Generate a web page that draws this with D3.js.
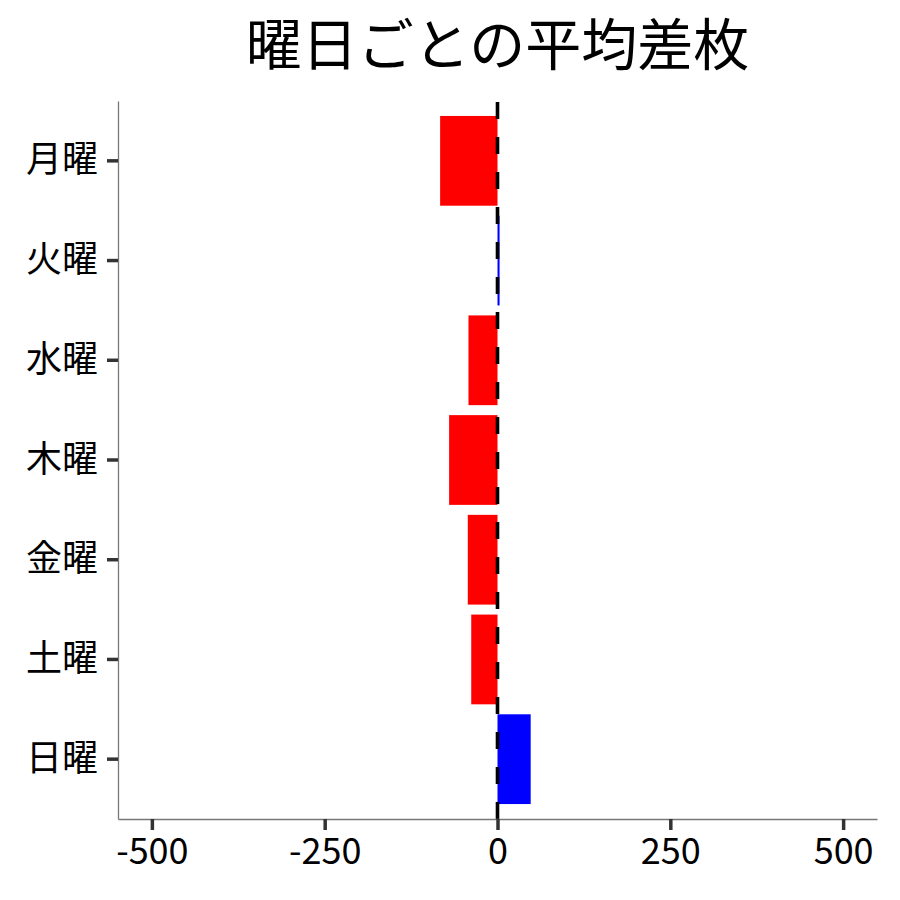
<!DOCTYPE html>
<html>
<head>
<meta charset="utf-8">
<script src="https://cdn.jsdelivr.net/npm/d3@7"></script>
<style>
  body { margin: 0; background: #fff; }
  text { font-family: "Noto Sans CJK JP", "Noto Sans", sans-serif; }
</style>
</head>
<body>
<div id="chart"></div>
<script>
// data
const days = ["月曜", "火曜", "水曜", "木曜", "金曜", "土曜", "日曜"];
const avgDiff = [-83, 3, -42, -70, -43, -38, 48];
const xTicks = [-500, -250, 0, 250, 500];
const titleText = "曜日ごとの平均差枚";

const width = 900, height = 900;
const margin = {top: 101, right: 23, bottom: 81, left: 118};

let svg = d3.select("#chart")
    .append("svg")
    .attr("width", width)
    .attr("height", height);

let x = d3.scaleLinear()
    .domain([-549, 549])
    .range([margin.left, width - margin.right]);

let y = d3.scaleBand()
    .domain(days)
    .range([margin.top, height - margin.bottom])
    .paddingInner(0.1)
    .paddingOuter(0.15);

let data = days.map((d, i) => ({day: d, value: avgDiff[i]}));

// bars
svg.append("g")
    .selectAll("rect")
    .data(data)
    .enter()
    .append("rect")
    .attr("x", d => x(Math.min(0, d.value)))
    .attr("y", d => y(d.day))
    .attr("width", d => Math.abs(x(d.value) - x(0)))
    .attr("height", y.bandwidth())
    .attr("fill", d => d.value < 0 ? "#ff0000" : "#0000ff");

// zero line
svg.append("line")
    .attr("x1", x(0))
    .attr("x2", x(0))
    .attr("y1", height - margin.bottom)
    .attr("y2", margin.top - 2)
    .attr("stroke", "#000")
    .attr("stroke-width", 3.6)
    .attr("stroke-dasharray", "17,18");

// axes (plain hyphen for negatives, like the original)
let xAxis = svg.append("g")
    .attr("transform", `translate(0,${height - margin.bottom})`)
    .call(d3.axisBottom(x).tickValues(xTicks).tickFormat(d => String(d))
        .tickSize(11).tickPadding(8).tickSizeOuter(0));

let yAxis = svg.append("g")
    .attr("transform", `translate(${margin.left},0)`)
    .call(d3.axisLeft(y).tickSize(11).tickPadding(9).tickSizeOuter(0));

[xAxis, yAxis].forEach(g => {
    g.select(".domain").attr("stroke", "#777").attr("stroke-width", 1.3);
    g.selectAll(".tick line").attr("stroke", "#333").attr("stroke-width", 3.5);
    g.selectAll(".tick text")
        .attr("fill", "#000")
        .style("font-size", "36px")
        .style("font-family", "'Noto Sans CJK JP', sans-serif");
});

// title
svg.append("text")
    .attr("x", (margin.left + width - margin.right) / 2)
    .attr("y", 65)
    .style("text-anchor", "middle")
    .style("font-size", "56px")
    .attr("fill", "#000")
    .text(titleText);
</script>
</body>
</html>
